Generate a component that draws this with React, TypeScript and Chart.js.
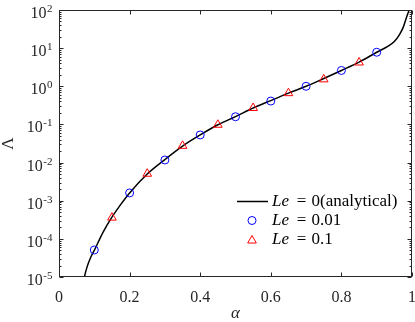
import React, { useEffect, useRef } from 'react';
import { Chart, registerables } from 'chart.js';

Chart.register(...registerables);

// Le = 0 (analytical) curve
const curveAlpha = [0.068, 0.072, 0.08, 0.09, 0.1, 0.125, 0.15, 0.175, 0.2, 0.25, 0.3, 0.35, 0.4, 0.45, 0.5, 0.55, 0.6, 0.65, 0.7, 0.75, 0.8, 0.85, 0.9, 0.93, 0.95, 0.965, 0.975, 0.982, 0.988, 0.993, 0.996];
const curveLambda = [6e-6, 1e-5, 1.9e-5, 3.3e-5, 5.0e-5, 1.5e-4, 3.7e-4, 8.0e-4, 1.6e-3, 5.0e-3, 1.2e-2, 2.7e-2, 5.3e-2, 0.098, 0.16, 0.27, 0.42, 0.66, 1.0, 1.6, 2.6, 4.3, 7.8, 11, 15, 23, 35, 55, 80, 110, 160];

// Le = 0.01 (blue circles)
const le001Alpha = [0.1, 0.2, 0.3, 0.4, 0.5, 0.6, 0.7, 0.8, 0.9];
const le001Lambda = [5.1e-5, 1.6e-3, 1.17e-2, 5.3e-2, 0.159, 0.41, 1.0, 2.6, 7.8];

// Le = 0.1 (red triangles)
const le01Alpha = [0.15, 0.25, 0.35, 0.45, 0.55, 0.65, 0.75, 0.85];
const le01Lambda = [3.6e-4, 5.1e-3, 2.75e-2, 0.098, 0.27, 0.66, 1.52, 4.2];

const xTicks = [0, 0.2, 0.4, 0.6, 0.8, 1];
const yDecades = [-5, -4, -3, -2, -1, 0, 1, 2];
const legendName = 'Le';
const legendValues = ['0(analytical)', '0.01', '0.1'];

const FONT = '"Liberation Serif", "Times New Roman", serif';
const AXIS = '#262626';
const TEXT = '#262626';
const BLUE = '#0000ff';
const RED = '#ff0000';

const framePlugin = {
  id: 'frame',
  afterDraw(chart: any) {
    const { ctx, chartArea: a, scales } = chart;
    const xs = scales.x;
    const ys = scales.y;
    ctx.save();
    ctx.strokeStyle = AXIS;
    ctx.lineWidth = 1;
    const L = Math.round(a.left) + 0.5;
    const R = Math.round(a.right) - 0.5;
    const T = Math.round(a.top) + 0.5;
    const B = Math.round(a.bottom) - 0.5;
    ctx.strokeRect(L, T, R - L, B - T);
    ctx.beginPath();
    xTicks.forEach((v) => {
      const px = Math.round(xs.getPixelForValue(v)) + 0.5;
      ctx.moveTo(px, B);
      ctx.lineTo(px, B - 4);
      ctx.moveTo(px, T);
      ctx.lineTo(px, T + 4);
    });
    const yMax = 10 ** yDecades[yDecades.length - 1];
    yDecades.forEach((d) => {
      for (let m = 1; m < 10; m++) {
        const v = m * 10 ** d;
        if (v > yMax * 1.0001) break;
        const py = Math.round(ys.getPixelForValue(v)) + 0.5;
        const len = m === 1 ? 4 : 2;
        ctx.moveTo(L, py);
        ctx.lineTo(L + len, py);
        ctx.moveTo(R, py);
        ctx.lineTo(R - len, py);
      }
    });
    ctx.stroke();

    // y tick labels 10^n
    ctx.fillStyle = TEXT;
    ctx.textAlign = 'right';
    ctx.textBaseline = 'alphabetic';
    const labelRight = 52.5;
    yDecades.forEach((d) => {
      const py = ys.getPixelForValue(10 ** d);
      const exp = String(d);
      ctx.font = `11px ${FONT}`;
      const ew = ctx.measureText(exp).width;
      ctx.fillText(exp, labelRight, py + 2);
      ctx.font = `16px ${FONT}`;
      ctx.fillText('10', labelRight - ew - 0.5, py + 8);
    });

    // legend
    const lx = 237;
    const rows = [201.5, 220.5, 239.5];
    ctx.strokeStyle = '#000';
    ctx.lineWidth = 1.5;
    ctx.beginPath();
    ctx.moveTo(lx, rows[0]);
    ctx.lineTo(lx + 31, rows[0]);
    ctx.stroke();
    ctx.lineWidth = 1;
    ctx.strokeStyle = BLUE;
    ctx.beginPath();
    ctx.arc(252, rows[1], 4, 0, Math.PI * 2);
    ctx.stroke();
    ctx.strokeStyle = RED;
    ctx.beginPath();
    const r = 5;
    const cy = rows[2] + 1;
    ctx.moveTo(252, cy - r);
    ctx.lineTo(252 + Math.sin((2 * Math.PI) / 3) * r, cy - Math.cos((2 * Math.PI) / 3) * r);
    ctx.lineTo(252 + Math.sin((4 * Math.PI) / 3) * r, cy - Math.cos((4 * Math.PI) / 3) * r);
    ctx.closePath();
    ctx.stroke();

    ctx.fillStyle = '#000';
    ctx.textBaseline = 'middle';
    legendValues.forEach((val, i) => {
      const y = rows[i];
      ctx.textAlign = 'left';
      ctx.font = `italic 17px ${FONT}`;
      ctx.fillText(legendName, 272, y);
      ctx.textAlign = 'center';
      ctx.font = `17px ${FONT}`;
      ctx.fillText('=', 301.5, y);
      ctx.textAlign = 'left';
      ctx.fillText(val, 311.5, y);
    });
    ctx.restore();
  },
};

export default function App() {
  const ref = useRef<HTMLCanvasElement | null>(null);
  useEffect(() => {
    if (!ref.current) return;
    const chart = new Chart(ref.current, {
      type: 'scatter',
      data: {
        datasets: [
          {
            label: 'Le = 0(analytical)',
            data: curveAlpha.map((x, i) => ({ x, y: curveLambda[i] })),
            showLine: true,
            borderColor: '#000',
            borderWidth: 1.5,
            pointRadius: 0,
            cubicInterpolationMode: 'monotone',
            order: 3,
          },
          {
            label: 'Le = 0.01',
            data: le001Alpha.map((x, i) => ({ x, y: le001Lambda[i] })),
            showLine: false,
            pointStyle: 'circle',
            pointRadius: 4,
            borderColor: BLUE,
            backgroundColor: 'rgba(0,0,0,0)',
            borderWidth: 1,
            order: 1,
          },
          {
            label: 'Le = 0.1',
            data: le01Alpha.map((x, i) => ({ x, y: le01Lambda[i] })),
            showLine: false,
            pointStyle: 'triangle',
            pointRadius: 5,
            borderColor: RED,
            backgroundColor: 'rgba(0,0,0,0)',
            borderWidth: 1,
            order: 2,
          },
        ],
      } as any,
      options: {
        responsive: false,
        animation: false,
        layout: { padding: { left: 0, right: 3, top: 10, bottom: 0 }, autoPadding: false },
        plugins: { legend: { display: false }, tooltip: { enabled: false } },
        scales: {
          x: {
            type: 'linear',
            min: 0,
            max: 1,
            afterBuildTicks: (s: any) => {
              s.ticks = xTicks.map((v) => ({ value: v }));
            },
            afterFit: (s: any) => {
              s.height = 45;
              s.paddingLeft = 0;
              s.paddingRight = 0;
              s.paddingTop = 0;
              s.paddingBottom = 0;
            },
            grid: { display: false },
            border: { display: false },
            ticks: {
              font: { family: FONT, size: 16 },
              color: TEXT,
              padding: 3,
              maxRotation: 0,
              autoSkip: false,
              callback: (v: any) => (v === 0 ? '0' : v === 1 ? '1' : Number(v).toFixed(1)),
            },
            title: {
              display: true,
              text: 'α',
              color: TEXT,
              font: { family: FONT, size: 17, style: 'italic', lineHeight: 1 },
              padding: { top: 0, bottom: 0 },
            },
          },
          y: {
            type: 'logarithmic',
            min: 1e-5,
            max: 100,
            afterFit: (s: any) => {
              s.width = 59;
              s.paddingLeft = 0;
              s.paddingRight = 0;
              s.paddingTop = 0;
              s.paddingBottom = 0;
            },
            grid: { display: false },
            border: { display: false },
            ticks: { display: false },
            title: {
              display: true,
              text: 'Λ',
              color: TEXT,
              font: { family: FONT, size: 17, lineHeight: 1 },
              padding: { top: 0, bottom: 0 },
            },
          },
        },
      } as any,
      plugins: [framePlugin],
    });
    return () => chart.destroy();
  }, []);
  return (
    <div style={{ position: 'absolute', left: 0, top: 0, width: 415, height: 322, background: '#fff' }}>
      <canvas ref={ref} width={415} height={322} style={{ width: 415, height: 322 }} />
    </div>
  );
}
